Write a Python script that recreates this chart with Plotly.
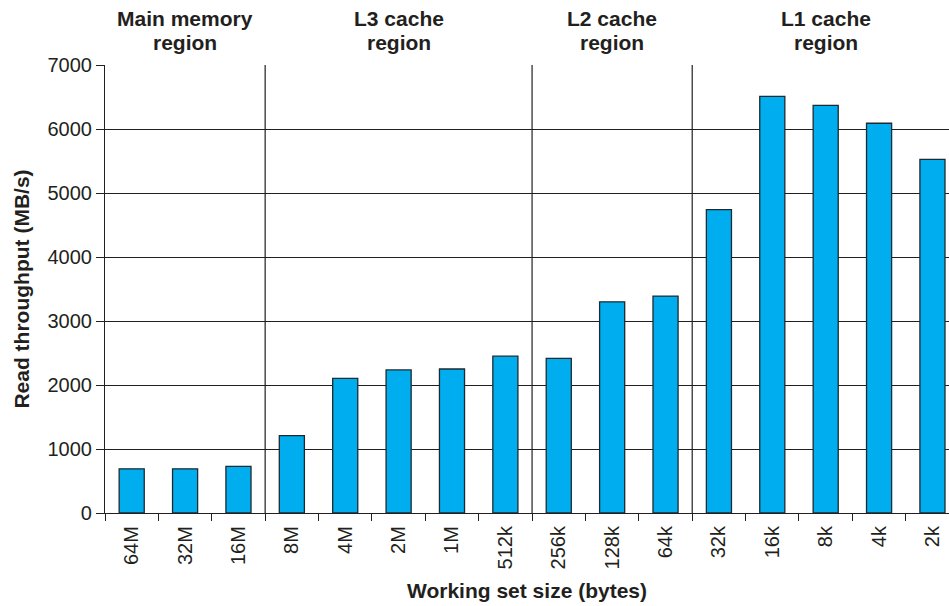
import plotly.graph_objects as go

# Working-set sizes, largest to smallest
sizes = ["64M", "32M", "16M", "8M", "4M", "2M", "1M", "512k",
         "256k", "128k", "64k", "32k", "16k", "8k", "4k", "2k"]
# Measured read throughput, MB/s
throughput = [690, 690, 730, 1210, 2105, 2235, 2250, 2450,
              2415, 3300, 3390, 4740, 6510, 6370, 6090, 5525]

# Memory-hierarchy regions: two-line label, centre category, boundary after region
region_line1 = ["Main memory", "L3 cache", "L2 cache", "L1 cache"]
region_line2 = ["region", "region", "region", "region"]
region_centers = ["32M", "2M", "128k", "8k"]
region_bounds = [2.5, 7.5, 10.5]

y_ticks = [0, 1000, 2000, 3000, 4000, 5000, 6000, 7000]

INK = "#231f20"
FONT = "Liberation Sans, Arial, Helvetica, sans-serif"

fig = go.Figure(
    go.Bar(
        x=sizes,
        y=throughput,
        width=0.47,
        marker=dict(color="#00aeef", line=dict(color="#1e2a30", width=1.3)),
    )
)

for b in region_bounds:
    fig.add_shape(type="line", xref="x", yref="y", x0=b, x1=b, y0=0, y1=7000,
                  line=dict(color=INK, width=1.2), layer="below")

# Region headings above the plot, each line placed separately for tight spacing
for l1, l2, c in zip(region_line1, region_line2, region_centers):
    for txt, shift in ((l1, 47), (l2, 23)):
        fig.add_annotation(x=c, xref="x", y=1.0, yref="paper", yanchor="middle",
                           yshift=shift, text=txt, showarrow=False,
                           font=dict(family=FONT, size=21, color=INK,
                                     weight="bold"))

fig.update_layout(
    width=949, height=606,
    margin=dict(l=105, r=0, t=65, b=93),
    plot_bgcolor="white", paper_bgcolor="white",
    showlegend=False,
    font=dict(family=FONT, size=20, color=INK),
)

fig.update_xaxes(
    type="category",
    range=[-0.5, 15.31],
    tickangle=-90,
    tickson="boundaries",
    ticks="outside", ticklen=7, tickcolor=INK, tickwidth=1.2,
    ticklabelstandoff=4,
    showline=True, linecolor=INK, linewidth=1.2,
    showgrid=False,
    tickfont=dict(size=20),
    title=dict(text="Working set size (bytes)", standoff=14,
               font=dict(size=21, weight="bold")),
)

fig.update_yaxes(
    range=[0, 7000],
    tickvals=y_ticks,
    ticks="outside", ticklen=8, tickcolor=INK, tickwidth=1.2,
    showline=True, linecolor=INK, linewidth=1.2,
    showgrid=True, gridcolor=INK, gridwidth=1.2,
    zeroline=False,
    tickfont=dict(size=20),
    title=dict(text="Read throughput (MB/s)", standoff=12,
               font=dict(size=21, weight="bold")),
)

fig.write_html("out.html")
